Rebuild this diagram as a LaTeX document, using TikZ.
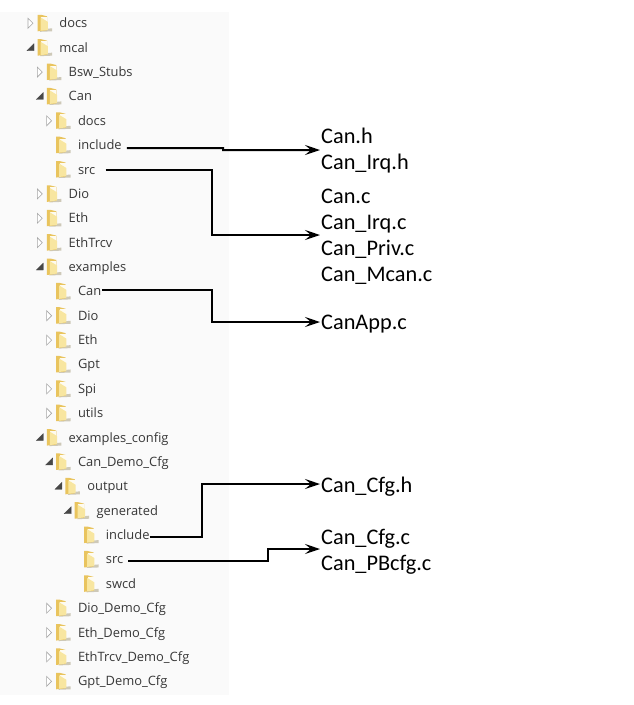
\documentclass[tikz,border=0pt]{standalone}
\usepackage{fontspec}
\setmainfont{Open Sans}
\newfontfamily\filefont{Carlito}
\usetikzlibrary{arrows.meta}
\definecolor{folderback}{HTML}{E9C45E}
\definecolor{folderfront}{HTML}{F8E6A0}
\definecolor{foldershade}{HTML}{B9B29A}
\tikzset{
  treelabel/.style={anchor=west, inner sep=0pt, text height=9pt, text depth=3pt, font=\fontsize{12.9}{14}\selectfont, text=black!78},
  filelabel/.style={anchor=west, inner sep=0pt, text height=14pt, text depth=4pt, font=\filefont\fontsize{22.3}{24}\selectfont, text=black},
  link/.style={line width=2pt, -{Stealth[length=15pt,width=10pt,inset=6pt]}},
  openmark/.style={fill=black!72, draw=black!72, line width=0.3pt},
  closedmark/.style={fill=white, draw=black!35, line width=0.6pt},
  pics/foldericon/.style={code={
    \fill[foldershade!70!white] (-3,6) -- (8,5) -- (8,8) -- (-4,8.5) -- cycle;
    \fill[folderback] (-6.5,-8.5) -- (-3,-8.5) -- (3,-7) -- (3,7) -- (-6.5,8) -- cycle;
    \fill[white!85!folderfront] (-3,-6.5) -- (3,-6.5) -- (3,3) -- (-3,3) -- cycle;
    \fill[folderfront] (-3.5,-6) -- (3.8,-1.5) -- (3.8,6.5) -- (-3.5,7.5) -- cycle;
  }}
}
\begin{document}
\begin{tikzpicture}[x=1pt, y=-1pt]
  \useasboundingbox (0,0) rectangle (633,705);
  \fill[black!2] (0,12) rectangle (229,695);
  % folder tree: row / level / marker / node name / text
  \foreach \rowno/\lvl/\mk/\nm/\txt in {
    0/0/c/docsA/docs, 1/0/o/mcal/mcal, 2/1/c/bsw/Bsw\_Stubs, 3/1/o/canA/Can,
    4/2/c/docsB/docs, 5/2/n/incA/include, 6/2/n/srcA/src, 7/1/c/dio/Dio,
    8/1/c/eth/Eth, 9/1/c/ethtrcv/EthTrcv, 10/1/o/examples/examples,
    11/2/n/canB/Can, 12/2/c/dioB/Dio, 13/2/c/ethB/Eth, 14/2/n/gpt/Gpt,
    15/2/c/spi/Spi, 16/2/c/utils/utils, 17/1/o/excfg/examples\_config,
    18/2/o/candemo/Can\_Demo\_Cfg, 19/3/o/output/output, 20/4/o/generated/generated,
    21/5/n/incB/include, 22/5/n/srcB/src, 23/5/n/swcd/swcd,
    24/2/c/diodemo/Dio\_Demo\_Cfg, 25/2/c/ethdemo/Eth\_Demo\_Cfg,
    26/2/c/trcvdemo/EthTrcv\_Demo\_Cfg, 27/2/c/gptdemo/Gpt\_Demo\_Cfg}{
    \pgfmathsetmacro{\yy}{23.3+24.37*\rowno}
    \pgfmathsetmacro{\xx}{44+9.3*\lvl}
    \pic at (\xx,\yy) {foldericon};
    \node[treelabel] (\nm) at (\xx+15.2,\yy+1.5) {\txt};
    \if\mk o
      \fill[openmark] (\xx-10,\yy-4) -- (\xx-10,\yy+3) -- (\xx-17,\yy+3) -- cycle;
    \fi
    \if\mk c
      \draw[closedmark] (\xx-16,\yy-5) -- (\xx-11,\yy) -- (\xx-16,\yy+5) -- cycle;
    \fi
  }
  % file names
  \node[filelabel] (canh) at (321,138) {Can.h};
  \node[filelabel] (irqh) at (321,164) {Can\_Irq.h};
  \node[filelabel] (canc) at (321,198) {Can.c};
  \node[filelabel] (irqc) at (321,224) {Can\_Irq.c};
  \node[filelabel] (privc) at (321,250) {Can\_Priv.c};
  \node[filelabel] (mcanc) at (321,276) {Can\_Mcan.c};
  \node[filelabel] (appc) at (321,324) {CanApp.c};
  \node[filelabel] (cfgh) at (321,487) {Can\_Cfg.h};
  \node[filelabel] (cfgc) at (321,539) {Can\_Cfg.c};
  \node[filelabel] (pbc) at (321,565) {Can\_PBcfg.c};
  % arrow ends
  \coordinate (toh) at (320,150);
  \coordinate (toc) at (320,235);
  \coordinate (toapp) at (320,322);
  \coordinate (tocfgh) at (320,484);
  \coordinate (tocfgc) at (320,549);
  \draw[link] (incA.east)++(5,1.5) -- (223,148) -- (223,150) -- (toh);
  \draw[link] (srcA.east)++(10,-1) -| (212,235) -- (toc);
  \draw[link] (canB.east)++(1,-3) -| (212,322) -- (toapp);
  \draw[link] (incB.east) -| (202,484) -- (tocfgh);
  \draw[link] (srcB.east)++(5,0) -| (268,549) -- (tocfgc);
\end{tikzpicture}
\end{document}
